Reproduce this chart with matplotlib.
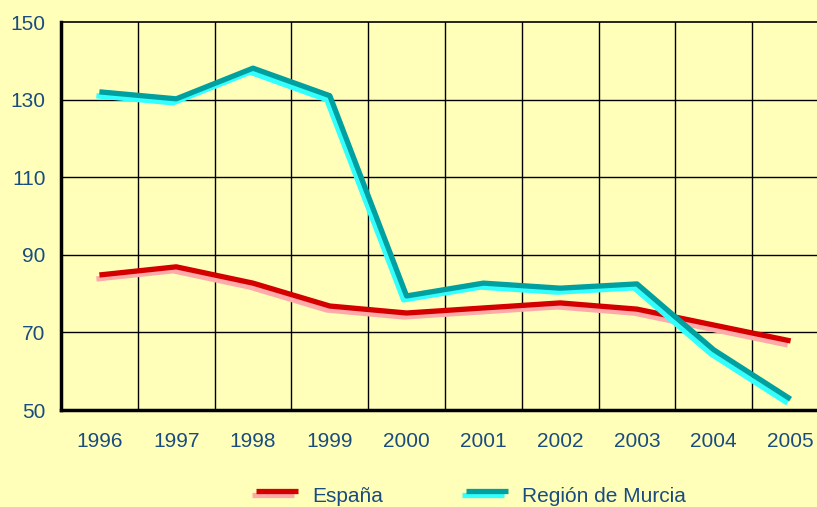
import numpy as np
import matplotlib.pyplot as plt
import matplotlib.transforms as mtransforms
from matplotlib.lines import Line2D

# Data
years = ['1996', '1997', '1998', '1999', '2000', '2001', '2002', '2003', '2004', '2005']
espana = [84.8, 86.9, 82.7, 76.8, 75.0, 76.3, 77.6, 76.0, 71.9, 67.8]
murcia = [132.0, 130.2, 138.1, 131.0, 79.4, 82.7, 81.4, 82.5, 65.5, 52.8]
yticks = [50, 70, 90, 110, 130, 150]

# Colours
bg = '#FFFFB9'
txt = '#1A4C80'
esp_dark, esp_light = '#D40000', '#FFAAAA'
mur_dark, mur_light = '#00A0A0', '#33FFFF'

plt.rcParams['font.family'] = ['Liberation Sans', 'DejaVu Sans']
fs = 15

fig = plt.figure(figsize=(8.17, 5.07), dpi=100, facecolor=bg)
ax = fig.add_axes([61 / 817, 97 / 507, 768 / 817, 388 / 507], facecolor=bg)

x = np.arange(len(years))
# shadow lines: shifted left/down a few pixels
shadow = ax.transData + mtransforms.ScaledTranslation(-3 / 100, -4 / 100, fig.dpi_scale_trans)
lw = 3.8
ax.plot(x, espana, color=esp_light, lw=lw, transform=shadow, solid_capstyle='butt', zorder=3)
ax.plot(x, espana, color=esp_dark, lw=lw, solid_capstyle='butt', zorder=4)
ax.plot(x, murcia, color=mur_light, lw=lw, transform=shadow, solid_capstyle='butt', zorder=5)
ax.plot(x, murcia, color=mur_dark, lw=lw, solid_capstyle='butt', zorder=6)

ax.set_xlim(-0.5, len(years) - 0.5)
ax.set_ylim(50, 150)
ax.set_yticks(yticks)
ax.set_xticks(x)
ax.set_xticklabels(years)
ax.grid(False)
for v in yticks[1:-1]:
    ax.axhline(v, color='black', lw=1.0, zorder=1)
for v in np.arange(0.5, len(years) - 0.5):
    ax.axvline(v, color='black', lw=1.0, zorder=1)

ax.tick_params(axis='both', which='both', length=0, labelsize=fs, labelcolor=txt)
ax.tick_params(axis='y', pad=11)
ax.tick_params(axis='x', pad=16)

for side in ['left', 'bottom']:
    ax.spines[side].set_linewidth(2.5)
ax.spines['top'].set_linewidth(1.2)
ax.spines['right'].set_visible(False)

# legend drawn by hand at the bottom
def legend_entry(x0, dark, light, label):
    fig.add_artist(Line2D([x0 / 817, (x0 + 42) / 817], [1 - 495 / 507] * 2,
                          color=light, lw=lw, solid_capstyle='butt'))
    fig.add_artist(Line2D([(x0 + 4) / 817, (x0 + 46) / 817], [1 - 491 / 507] * 2,
                          color=dark, lw=lw, solid_capstyle='butt'))
    fig.text((x0 + 60) / 817, 1 - 497 / 507, label, color=txt, fontsize=fs, va='center')

legend_entry(252, esp_dark, esp_light, 'España')
legend_entry(462, mur_dark, mur_light, 'Región de Murcia')

fig.savefig('out.png', dpi=100, facecolor=bg)
